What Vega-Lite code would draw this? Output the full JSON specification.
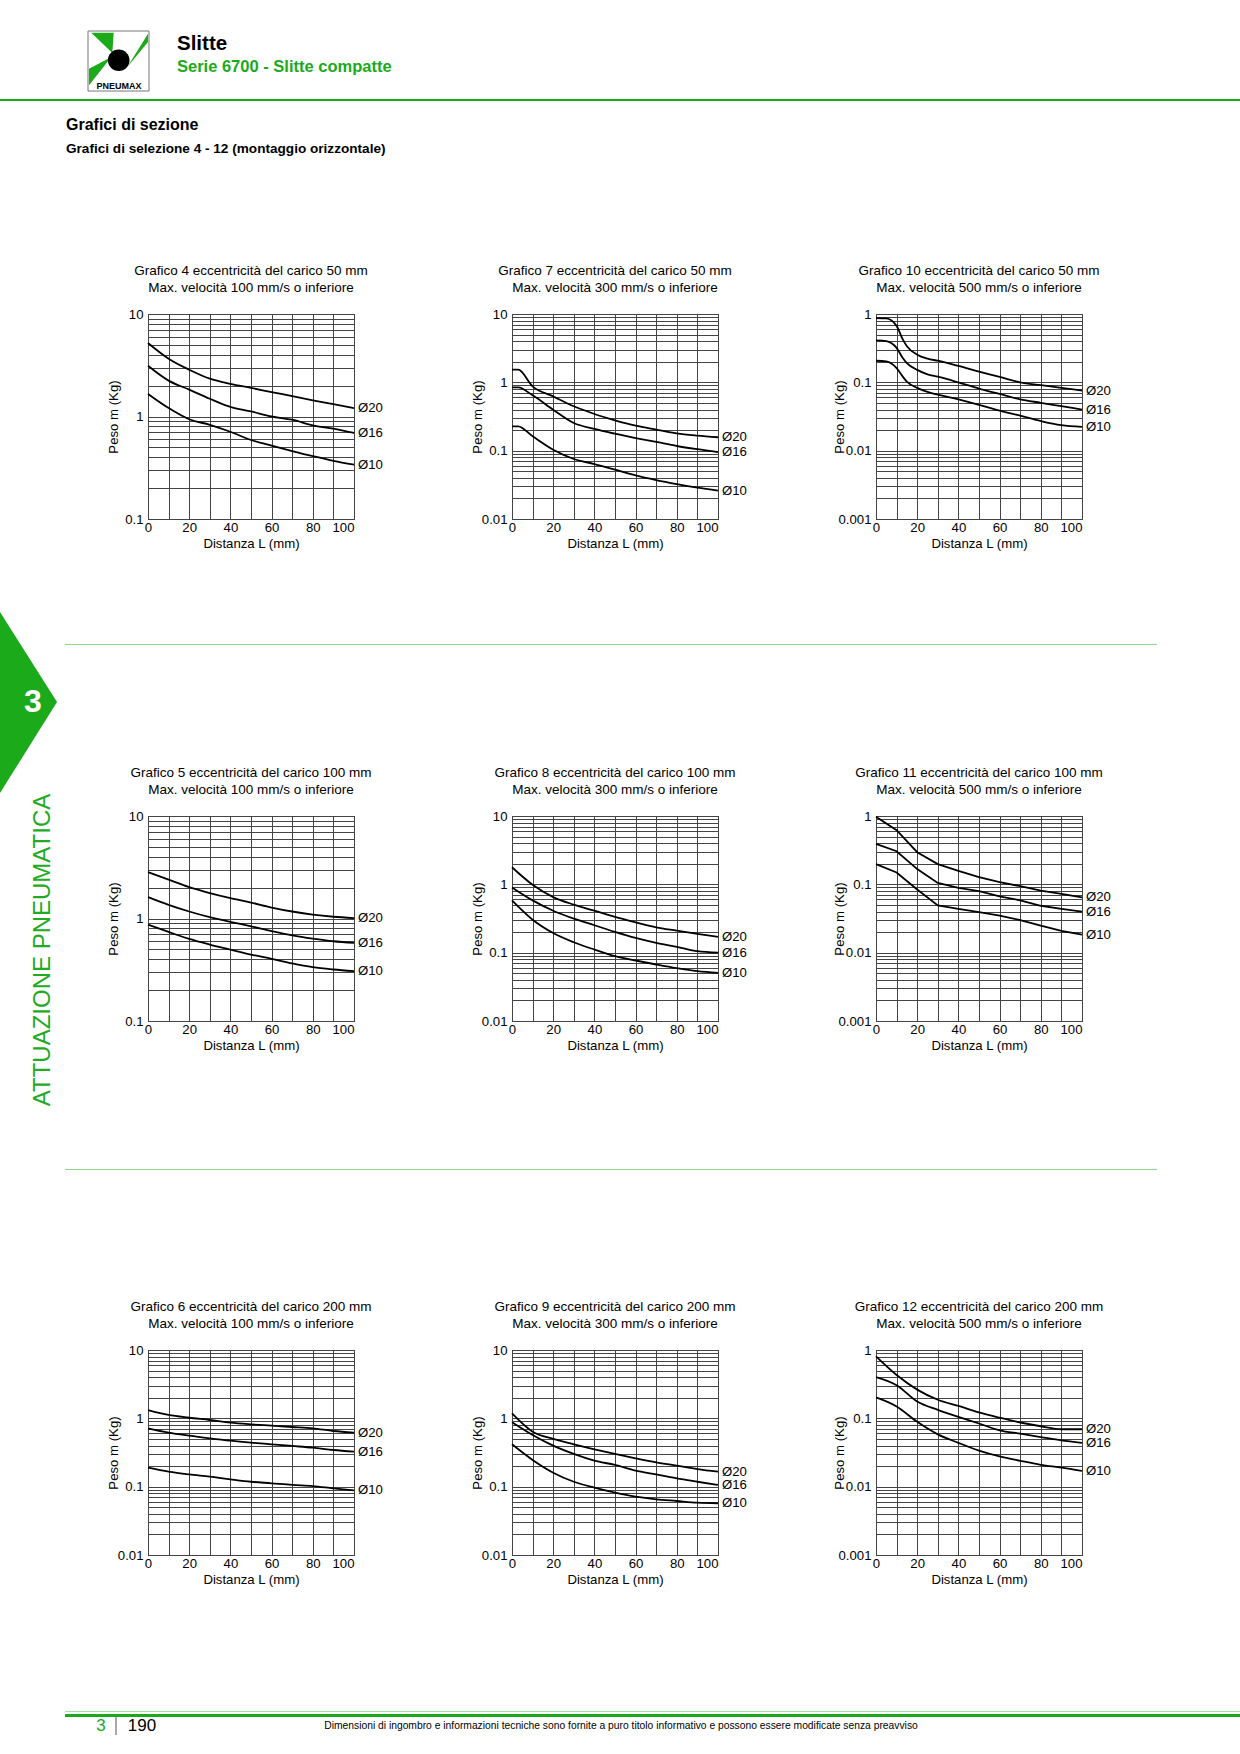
{
"$schema":"https://vega.github.io/schema/vega-lite/v6.json",
"background":"#ffffff",
"padding":0,
"autosize":{"type":"pad"},
"config":{
 "font":"Liberation Sans",
 "view":{"stroke":null},
 "concat":{"spacing":0},
 "title":{"fontSize":13.5,"fontWeight":"normal","color":"#000","anchor":"middle","frame":"group","offset":13,"lineHeight":16.5},
 "axis":{"grid":true,"gridColor":"#444","gridWidth":1,"gridOpacity":1,"ticks":false,"domain":false,"labelFontSize":13.2,"labelColor":"#000","titleFontSize":13.2,"titleFontWeight":"normal","titleColor":"#000","labelOverlap":false,"labelBound":false},
 "axisX":{"labelFlush":false,"labelPadding":2,"titleY":24.5,"titleBaseline":"middle"},
 "axisY":{"labelPadding":5,"titleX":-35,"titleY":102.5,"titleBaseline":"middle"},
 "point":{"opacity":1}
},
"datasets":{
 "none":[],
 "one":[{}],
 "curves":[
{"g":4,"d":"Ø20","L":0,"m":5.21},{"g":4,"d":"Ø20","L":10,"m":3.66},{"g":4,"d":"Ø20","L":20,"m":2.86},{"g":4,"d":"Ø20","L":30,"m":2.34},{"g":4,"d":"Ø20","L":40,"m":2.08},{"g":4,"d":"Ø20","L":50,"m":1.9},{"g":4,"d":"Ø20","L":60,"m":1.73},{"g":4,"d":"Ø20","L":70,"m":1.58},{"g":4,"d":"Ø20","L":80,"m":1.44},{"g":4,"d":"Ø20","L":90,"m":1.32},{"g":4,"d":"Ø20","L":100,"m":1.21},
{"g":4,"d":"Ø16","L":0,"m":3.13},{"g":4,"d":"Ø16","L":10,"m":2.24},{"g":4,"d":"Ø16","L":20,"m":1.83},{"g":4,"d":"Ø16","L":30,"m":1.49},{"g":4,"d":"Ø16","L":40,"m":1.24},{"g":4,"d":"Ø16","L":50,"m":1.12},{"g":4,"d":"Ø16","L":60,"m":1.0},{"g":4,"d":"Ø16","L":70,"m":0.93},{"g":4,"d":"Ø16","L":80,"m":0.82},{"g":4,"d":"Ø16","L":90,"m":0.76},{"g":4,"d":"Ø16","L":100,"m":0.69},
{"g":4,"d":"Ø10","L":0,"m":1.66},{"g":4,"d":"Ø10","L":10,"m":1.21},{"g":4,"d":"Ø10","L":20,"m":0.94},{"g":4,"d":"Ø10","L":30,"m":0.83},{"g":4,"d":"Ø10","L":40,"m":0.71},{"g":4,"d":"Ø10","L":50,"m":0.59},{"g":4,"d":"Ø10","L":60,"m":0.52},{"g":4,"d":"Ø10","L":70,"m":0.46},{"g":4,"d":"Ø10","L":80,"m":0.41},{"g":4,"d":"Ø10","L":90,"m":0.37},{"g":4,"d":"Ø10","L":100,"m":0.34},
{"g":7,"d":"Ø20","L":0,"m":1.53},{"g":7,"d":"Ø20","L":3,"m":1.53},{"g":7,"d":"Ø20","L":10,"m":0.874},{"g":7,"d":"Ø20","L":20,"m":0.624},{"g":7,"d":"Ø20","L":30,"m":0.446},{"g":7,"d":"Ø20","L":40,"m":0.344},{"g":7,"d":"Ø20","L":50,"m":0.278},{"g":7,"d":"Ø20","L":60,"m":0.232},{"g":7,"d":"Ø20","L":70,"m":0.203},{"g":7,"d":"Ø20","L":80,"m":0.179},{"g":7,"d":"Ø20","L":90,"m":0.166},{"g":7,"d":"Ø20","L":100,"m":0.157},
{"g":7,"d":"Ø16","L":0,"m":0.845},{"g":7,"d":"Ø16","L":3,"m":0.845},{"g":7,"d":"Ø16","L":10,"m":0.645},{"g":7,"d":"Ø16","L":20,"m":0.398},{"g":7,"d":"Ø16","L":30,"m":0.254},{"g":7,"d":"Ø16","L":40,"m":0.208},{"g":7,"d":"Ø16","L":50,"m":0.177},{"g":7,"d":"Ø16","L":60,"m":0.153},{"g":7,"d":"Ø16","L":70,"m":0.134},{"g":7,"d":"Ø16","L":80,"m":0.117},{"g":7,"d":"Ø16","L":90,"m":0.105},{"g":7,"d":"Ø16","L":100,"m":0.0955},
{"g":7,"d":"Ø10","L":0,"m":0.227},{"g":7,"d":"Ø10","L":3,"m":0.227},{"g":7,"d":"Ø10","L":10,"m":0.162},{"g":7,"d":"Ø10","L":20,"m":0.103},{"g":7,"d":"Ø10","L":30,"m":0.0755},{"g":7,"d":"Ø10","L":40,"m":0.0638},{"g":7,"d":"Ø10","L":50,"m":0.0527},{"g":7,"d":"Ø10","L":60,"m":0.0435},{"g":7,"d":"Ø10","L":70,"m":0.0372},{"g":7,"d":"Ø10","L":80,"m":0.0325},{"g":7,"d":"Ø10","L":90,"m":0.0288},{"g":7,"d":"Ø10","L":100,"m":0.026},
{"g":10,"d":"Ø20","L":0,"m":0.872},{"g":10,"d":"Ø20","L":5,"m":0.862},{"g":10,"d":"Ø20","L":10,"m":0.67},{"g":10,"d":"Ø20","L":13,"m":0.425},{"g":10,"d":"Ø20","L":15,"m":0.338},{"g":10,"d":"Ø20","L":20,"m":0.254},{"g":10,"d":"Ø20","L":25,"m":0.222},{"g":10,"d":"Ø20","L":30,"m":0.207},{"g":10,"d":"Ø20","L":40,"m":0.174},{"g":10,"d":"Ø20","L":50,"m":0.144},{"g":10,"d":"Ø20","L":60,"m":0.12},{"g":10,"d":"Ø20","L":70,"m":0.0997},{"g":10,"d":"Ø20","L":80,"m":0.091},{"g":10,"d":"Ø20","L":90,"m":0.083},{"g":10,"d":"Ø20","L":100,"m":0.0758},
{"g":10,"d":"Ø16","L":0,"m":0.41},{"g":10,"d":"Ø16","L":5,"m":0.401},{"g":10,"d":"Ø16","L":10,"m":0.319},{"g":10,"d":"Ø16","L":13,"m":0.227},{"g":10,"d":"Ø16","L":15,"m":0.191},{"g":10,"d":"Ø16","L":20,"m":0.152},{"g":10,"d":"Ø16","L":25,"m":0.131},{"g":10,"d":"Ø16","L":30,"m":0.121},{"g":10,"d":"Ø16","L":40,"m":0.0997},{"g":10,"d":"Ø16","L":50,"m":0.081},{"g":10,"d":"Ø16","L":60,"m":0.0676},{"g":10,"d":"Ø16","L":70,"m":0.0563},{"g":10,"d":"Ø16","L":80,"m":0.0502},{"g":10,"d":"Ø16","L":90,"m":0.0448},{"g":10,"d":"Ø16","L":100,"m":0.04},
{"g":10,"d":"Ø10","L":0,"m":0.207},{"g":10,"d":"Ø10","L":5,"m":0.202},{"g":10,"d":"Ø10","L":10,"m":0.161},{"g":10,"d":"Ø10","L":13,"m":0.121},{"g":10,"d":"Ø10","L":15,"m":0.102},{"g":10,"d":"Ø10","L":20,"m":0.083},{"g":10,"d":"Ø10","L":25,"m":0.0724},{"g":10,"d":"Ø10","L":30,"m":0.066},{"g":10,"d":"Ø10","L":40,"m":0.0563},{"g":10,"d":"Ø10","L":50,"m":0.0469},{"g":10,"d":"Ø10","L":60,"m":0.0386},{"g":10,"d":"Ø10","L":70,"m":0.0326},{"g":10,"d":"Ø10","L":80,"m":0.0271},{"g":10,"d":"Ø10","L":90,"m":0.0236},{"g":10,"d":"Ø10","L":100,"m":0.0223},
{"g":5,"d":"Ø20","L":0,"m":2.83},{"g":5,"d":"Ø20","L":10,"m":2.39},{"g":5,"d":"Ø20","L":20,"m":2.02},{"g":5,"d":"Ø20","L":30,"m":1.77},{"g":5,"d":"Ø20","L":40,"m":1.58},{"g":5,"d":"Ø20","L":50,"m":1.43},{"g":5,"d":"Ø20","L":60,"m":1.28},{"g":5,"d":"Ø20","L":70,"m":1.17},{"g":5,"d":"Ø20","L":80,"m":1.09},{"g":5,"d":"Ø20","L":90,"m":1.04},{"g":5,"d":"Ø20","L":100,"m":1.01},
{"g":5,"d":"Ø16","L":0,"m":1.62},{"g":5,"d":"Ø16","L":10,"m":1.36},{"g":5,"d":"Ø16","L":20,"m":1.17},{"g":5,"d":"Ø16","L":30,"m":1.03},{"g":5,"d":"Ø16","L":40,"m":0.925},{"g":5,"d":"Ø16","L":50,"m":0.839},{"g":5,"d":"Ø16","L":60,"m":0.755},{"g":5,"d":"Ø16","L":70,"m":0.686},{"g":5,"d":"Ø16","L":80,"m":0.637},{"g":5,"d":"Ø16","L":90,"m":0.6},{"g":5,"d":"Ø16","L":100,"m":0.578},
{"g":5,"d":"Ø10","L":0,"m":0.871},{"g":5,"d":"Ø10","L":10,"m":0.739},{"g":5,"d":"Ø10","L":20,"m":0.632},{"g":5,"d":"Ø10","L":30,"m":0.557},{"g":5,"d":"Ø10","L":40,"m":0.498},{"g":5,"d":"Ø10","L":50,"m":0.445},{"g":5,"d":"Ø10","L":60,"m":0.404},{"g":5,"d":"Ø10","L":70,"m":0.364},{"g":5,"d":"Ø10","L":80,"m":0.335},{"g":5,"d":"Ø10","L":90,"m":0.318},{"g":5,"d":"Ø10","L":100,"m":0.306},
{"g":8,"d":"Ø20","L":0,"m":1.78},{"g":8,"d":"Ø20","L":10,"m":0.986},{"g":8,"d":"Ø20","L":20,"m":0.651},{"g":8,"d":"Ø20","L":30,"m":0.504},{"g":8,"d":"Ø20","L":40,"m":0.411},{"g":8,"d":"Ø20","L":50,"m":0.333},{"g":8,"d":"Ø20","L":60,"m":0.278},{"g":8,"d":"Ø20","L":70,"m":0.235},{"g":8,"d":"Ø20","L":80,"m":0.21},{"g":8,"d":"Ø20","L":90,"m":0.188},{"g":8,"d":"Ø20","L":100,"m":0.17},
{"g":8,"d":"Ø16","L":0,"m":0.901},{"g":8,"d":"Ø16","L":10,"m":0.582},{"g":8,"d":"Ø16","L":20,"m":0.411},{"g":8,"d":"Ø16","L":30,"m":0.315},{"g":8,"d":"Ø16","L":40,"m":0.252},{"g":8,"d":"Ø16","L":50,"m":0.201},{"g":8,"d":"Ø16","L":60,"m":0.164},{"g":8,"d":"Ø16","L":70,"m":0.139},{"g":8,"d":"Ø16","L":80,"m":0.122},{"g":8,"d":"Ø16","L":90,"m":0.105},{"g":8,"d":"Ø16","L":100,"m":0.1},
{"g":8,"d":"Ø10","L":0,"m":0.582},{"g":8,"d":"Ø10","L":10,"m":0.304},{"g":8,"d":"Ø10","L":20,"m":0.194},{"g":8,"d":"Ø10","L":30,"m":0.142},{"g":8,"d":"Ø10","L":40,"m":0.111},{"g":8,"d":"Ø10","L":50,"m":0.0888},{"g":8,"d":"Ø10","L":60,"m":0.0768},{"g":8,"d":"Ø10","L":70,"m":0.0671},{"g":8,"d":"Ø10","L":80,"m":0.0593},{"g":8,"d":"Ø10","L":90,"m":0.0537},{"g":8,"d":"Ø10","L":100,"m":0.0507},
{"g":11,"d":"Ø20","L":0,"m":0.977},{"g":11,"d":"Ø20","L":10,"m":0.619},{"g":11,"d":"Ø20","L":20,"m":0.295},{"g":11,"d":"Ø20","L":30,"m":0.198},{"g":11,"d":"Ø20","L":40,"m":0.157},{"g":11,"d":"Ø20","L":50,"m":0.128},{"g":11,"d":"Ø20","L":60,"m":0.108},{"g":11,"d":"Ø20","L":70,"m":0.094},{"g":11,"d":"Ø20","L":80,"m":0.081},{"g":11,"d":"Ø20","L":90,"m":0.0724},{"g":11,"d":"Ø20","L":100,"m":0.0646},
{"g":11,"d":"Ø16","L":0,"m":0.392},{"g":11,"d":"Ø16","L":10,"m":0.305},{"g":11,"d":"Ø16","L":20,"m":0.167},{"g":11,"d":"Ø16","L":30,"m":0.105},{"g":11,"d":"Ø16","L":40,"m":0.0889},{"g":11,"d":"Ø16","L":50,"m":0.0793},{"g":11,"d":"Ø16","L":60,"m":0.0668},{"g":11,"d":"Ø16","L":70,"m":0.0583},{"g":11,"d":"Ø16","L":80,"m":0.0486},{"g":11,"d":"Ø16","L":90,"m":0.0438},{"g":11,"d":"Ø16","L":100,"m":0.04},
{"g":11,"d":"Ø10","L":0,"m":0.198},{"g":11,"d":"Ø10","L":10,"m":0.149},{"g":11,"d":"Ø10","L":20,"m":0.084},{"g":11,"d":"Ø10","L":30,"m":0.0491},{"g":11,"d":"Ø10","L":40,"m":0.0438},{"g":11,"d":"Ø10","L":50,"m":0.0391},{"g":11,"d":"Ø10","L":60,"m":0.0349},{"g":11,"d":"Ø10","L":70,"m":0.03},{"g":11,"d":"Ø10","L":80,"m":0.0248},{"g":11,"d":"Ø10","L":90,"m":0.0209},{"g":11,"d":"Ø10","L":100,"m":0.0184},
{"g":6,"d":"Ø20","L":0,"m":1.32},{"g":6,"d":"Ø20","L":10,"m":1.12},{"g":6,"d":"Ø20","L":20,"m":1.02},{"g":6,"d":"Ø20","L":30,"m":0.945},{"g":6,"d":"Ø20","L":40,"m":0.865},{"g":6,"d":"Ø20","L":50,"m":0.817},{"g":6,"d":"Ø20","L":60,"m":0.781},{"g":6,"d":"Ø20","L":70,"m":0.747},{"g":6,"d":"Ø20","L":80,"m":0.714},{"g":6,"d":"Ø20","L":90,"m":0.653},{"g":6,"d":"Ø20","L":100,"m":0.617},
{"g":6,"d":"Ø16","L":0,"m":0.714},{"g":6,"d":"Ø16","L":10,"m":0.617},{"g":6,"d":"Ø16","L":20,"m":0.557},{"g":6,"d":"Ø16","L":30,"m":0.51},{"g":6,"d":"Ø16","L":40,"m":0.471},{"g":6,"d":"Ø16","L":50,"m":0.441},{"g":6,"d":"Ø16","L":60,"m":0.417},{"g":6,"d":"Ø16","L":70,"m":0.394},{"g":6,"d":"Ø16","L":80,"m":0.372},{"g":6,"d":"Ø16","L":90,"m":0.344},{"g":6,"d":"Ø16","L":100,"m":0.325},
{"g":6,"d":"Ø10","L":0,"m":0.19},{"g":6,"d":"Ø10","L":10,"m":0.166},{"g":6,"d":"Ø10","L":20,"m":0.151},{"g":6,"d":"Ø10","L":30,"m":0.14},{"g":6,"d":"Ø10","L":40,"m":0.128},{"g":6,"d":"Ø10","L":50,"m":0.118},{"g":6,"d":"Ø10","L":60,"m":0.112},{"g":6,"d":"Ø10","L":70,"m":0.106},{"g":6,"d":"Ø10","L":80,"m":0.102},{"g":6,"d":"Ø10","L":90,"m":0.0946},{"g":6,"d":"Ø10","L":100,"m":0.0884},
{"g":9,"d":"Ø20","L":0,"m":1.18},{"g":9,"d":"Ø20","L":10,"m":0.638},{"g":9,"d":"Ø20","L":20,"m":0.499},{"g":9,"d":"Ø20","L":30,"m":0.417},{"g":9,"d":"Ø20","L":40,"m":0.352},{"g":9,"d":"Ø20","L":50,"m":0.301},{"g":9,"d":"Ø20","L":60,"m":0.26},{"g":9,"d":"Ø20","L":70,"m":0.227},{"g":9,"d":"Ø20","L":80,"m":0.203},{"g":9,"d":"Ø20","L":90,"m":0.181},{"g":9,"d":"Ø20","L":100,"m":0.166},
{"g":9,"d":"Ø16","L":0,"m":0.874},{"g":9,"d":"Ø16","L":10,"m":0.57},{"g":9,"d":"Ø16","L":20,"m":0.398},{"g":9,"d":"Ø16","L":30,"m":0.301},{"g":9,"d":"Ø16","L":40,"m":0.24},{"g":9,"d":"Ø16","L":50,"m":0.208},{"g":9,"d":"Ø16","L":60,"m":0.171},{"g":9,"d":"Ø16","L":70,"m":0.151},{"g":9,"d":"Ø16","L":80,"m":0.132},{"g":9,"d":"Ø16","L":90,"m":0.118},{"g":9,"d":"Ø16","L":100,"m":0.106},
{"g":9,"d":"Ø10","L":0,"m":0.417},{"g":9,"d":"Ø10","L":10,"m":0.246},{"g":9,"d":"Ø10","L":20,"m":0.16},{"g":9,"d":"Ø10","L":30,"m":0.118},{"g":9,"d":"Ø10","L":40,"m":0.0966},{"g":9,"d":"Ø10","L":50,"m":0.0817},{"g":9,"d":"Ø10","L":60,"m":0.0714},{"g":9,"d":"Ø10","L":70,"m":0.0653},{"g":9,"d":"Ø10","L":80,"m":0.0617},{"g":9,"d":"Ø10","L":90,"m":0.0583},{"g":9,"d":"Ø10","L":100,"m":0.057},
{"g":12,"d":"Ø20","L":0,"m":0.805},{"g":12,"d":"Ø20","L":10,"m":0.43},{"g":12,"d":"Ø20","L":20,"m":0.263},{"g":12,"d":"Ø20","L":30,"m":0.187},{"g":12,"d":"Ø20","L":40,"m":0.152},{"g":12,"d":"Ø20","L":50,"m":0.122},{"g":12,"d":"Ø20","L":60,"m":0.102},{"g":12,"d":"Ø20","L":70,"m":0.0869},{"g":12,"d":"Ø20","L":80,"m":0.0766},{"g":12,"d":"Ø20","L":90,"m":0.0692},{"g":12,"d":"Ø20","L":100,"m":0.0692},
{"g":12,"d":"Ø16","L":0,"m":0.401},{"g":12,"d":"Ø16","L":10,"m":0.305},{"g":12,"d":"Ø16","L":20,"m":0.176},{"g":12,"d":"Ø16","L":30,"m":0.133},{"g":12,"d":"Ø16","L":40,"m":0.105},{"g":12,"d":"Ø16","L":50,"m":0.084},{"g":12,"d":"Ø16","L":60,"m":0.0668},{"g":12,"d":"Ø16","L":70,"m":0.0596},{"g":12,"d":"Ø16","L":80,"m":0.0532},{"g":12,"d":"Ø16","L":90,"m":0.0475},{"g":12,"d":"Ø16","L":100,"m":0.0438},
{"g":12,"d":"Ø10","L":0,"m":0.202},{"g":12,"d":"Ø10","L":10,"m":0.149},{"g":12,"d":"Ø10","L":20,"m":0.0889},{"g":12,"d":"Ø10","L":30,"m":0.0583},{"g":12,"d":"Ø10","L":40,"m":0.0438},{"g":12,"d":"Ø10","L":50,"m":0.0337},{"g":12,"d":"Ø10","L":60,"m":0.0277},{"g":12,"d":"Ø10","L":70,"m":0.0239},{"g":12,"d":"Ø10","L":80,"m":0.0209},{"g":12,"d":"Ø10","L":90,"m":0.019},{"g":12,"d":"Ø10","L":100,"m":0.017}
 ]
},
"columns":8,
"align":"each",
"spacing":0,
"bounds":"flush",
"concat":[
 {"width":65,"height":99,"mark":"point","data":{"name":"none"}},
 {"width":83,"height":99,"data":{"name":"one"},"layer":[
   {"mark":{"type":"point","shape":"M-18.5,-18.5L42.5,-18.5L42.5,41.5L-18.5,41.5Z","size":4,"filled":false,"color":"#777","strokeWidth":1,"opacity":1}},
   {"mark":{"type":"point","shape":"M-15.2,-16.8L7.2,-16.8L5.8,3.5ZM41.5,-15.8L41.5,-7.5L20.8,17.5ZM-17.5,19.2L-17.5,35.8L4.8,7.5Z","size":4,"filled":true,"color":"#1aaa1a","opacity":1,"strokeWidth":0}},
   {"mark":{"type":"point","shape":"M1.4,10.8A10.8,10.8 0 1,0 23,10.8A10.8,10.8 0 1,0 1.4,10.8Z","size":4,"filled":true,"color":"#000","opacity":1,"strokeWidth":0}},
   {"mark":{"type":"text","text":"PNEUMAX","fontSize":9,"fontWeight":"bold","dx":12.5,"dy":36.5,"color":"#000"}}
 ]},
 {"width":1,"height":1,"mark":"point","data":{"name":"none"}},
 {"width":1,"height":1,"mark":"point","data":{"name":"none"}},
 {"width":1,"height":1,"mark":"point","data":{"name":"none"}},
 {"width":1,"height":1,"mark":"point","data":{"name":"none"}},
 {"width":1,"height":1,"mark":"point","data":{"name":"none"}},
 {"width":1,"height":1,"mark":"point","data":{"name":"none"}},

 {"width":65,"height":2,"mark":"point","data":{"name":"none"},"view":{"fill":"#1aaa1a","stroke":null}},
 {"width":83,"height":2,"mark":"point","data":{"name":"none"},"view":{"fill":"#1aaa1a","stroke":null}},
 {"width":206,"height":2,"mark":"point","data":{"name":"none"},"view":{"fill":"#1aaa1a","stroke":null},
  "title":{"text":"Slitte","subtitle":"Serie 6700 - Slitte compatte","orient":"top","anchor":"start","frame":"group","dx":29,"offset":24,"fontSize":20.5,"fontWeight":"bold","lineHeight":20.5,"color":"#000","subtitleFontSize":16.5,"subtitleFontWeight":"bold","subtitleColor":"#1aaa1a","subtitlePadding":4}},
 {"width":158,"height":2,"mark":"point","data":{"name":"none"},"view":{"fill":"#1aaa1a","stroke":null}},
 {"width":206,"height":2,"mark":"point","data":{"name":"none"},"view":{"fill":"#1aaa1a","stroke":null}},
 {"width":158,"height":2,"mark":"point","data":{"name":"none"},"view":{"fill":"#1aaa1a","stroke":null}},
 {"width":206,"height":2,"mark":"point","data":{"name":"none"},"view":{"fill":"#1aaa1a","stroke":null}},
 {"width":158,"height":2,"mark":"point","data":{"name":"none"},"view":{"fill":"#1aaa1a","stroke":null}},

 {"width":1,"height":1,"mark":"point","data":{"name":"none"}},
 {"width":1,"height":16,"mark":"point","data":{"name":"none"},
  "title":{"text":"Grafici di sezione","subtitle":"Grafici di selezione 4 - 12 (montaggio orizzontale)","orient":"bottom","anchor":"start","frame":"group","dx":1,"offset":0,"fontSize":16,"fontWeight":"bold","lineHeight":16,"color":"#000","subtitleFontSize":13.6,"subtitleFontWeight":"bold","subtitleColor":"#000","subtitlePadding":9}},
 {"width":1,"height":1,"mark":"point","data":{"name":"none"}},
 {"width":1,"height":1,"mark":"point","data":{"name":"none"}},
 {"width":1,"height":1,"mark":"point","data":{"name":"none"}},
 {"width":1,"height":1,"mark":"point","data":{"name":"none"}},
 {"width":1,"height":1,"mark":"point","data":{"name":"none"}},
 {"width":1,"height":1,"mark":"point","data":{"name":"none"}},

 {"width":1,"height":197,"mark":"point","data":{"name":"none"}},
 {"width":1,"height":1,"mark":"point","data":{"name":"none"}},
 {"width":1,"height":1,"mark":"point","data":{"name":"none"}},
 {"width":1,"height":1,"mark":"point","data":{"name":"none"}},
 {"width":1,"height":1,"mark":"point","data":{"name":"none"}},
 {"width":1,"height":1,"mark":"point","data":{"name":"none"}},
 {"width":1,"height":1,"mark":"point","data":{"name":"none"}},
 {"width":1,"height":1,"mark":"point","data":{"name":"none"}},

 {"width":65,"height":205,"mark":"point","data":{"name":"none"}},
 {"width":83,"height":205,"mark":"point","data":{"name":"none"}},
 {"width":206,"height":205,"view":{"stroke":"#000","strokeWidth":1},
  "title":{"text":["Grafico 4 eccentricità del carico 50 mm","Max. velocità 100 mm/s o inferiore"]},
  "data":{"name":"curves"},"transform":[{"filter":"datum.g == 4"}],
  "encoding":{"x":{"field":"L","type":"quantitative","scale":{"domain":[0,100],"nice":false},"axis":{"title":"Distanza L (mm)","values":[0,10,20,30,40,50,60,70,80,90,100],"labelExpr":"datum.value % 20 == 0 ? datum.label : ''","labelAlign":{"condition":{"test":"datum.value == 100","value":"right"},"value":"center"}}},
   "y":{"field":"m","type":"quantitative","scale":{"type":"log","domain":[0.1,10],"nice":false},"axis":{"title":"Peso m (Kg)","values":[0.1,0.2,0.3,0.4,0.5,0.6,0.7,0.8,0.9,1,2,3,4,5,6,7,8,9,10],"labelExpr":"indexof([0.001,0.01,0.1,1,10], datum.value) >= 0 ? format(datum.value, '~g') : ''"}}},
  "layer":[{"mark":{"type":"line","interpolate":"monotone","color":"#000","strokeWidth":1.8},"encoding":{"detail":{"field":"d"}}},
   {"transform":[{"filter":"datum.L == 100"}],"mark":{"type":"text","align":"left","dx":4,"fontSize":13.2,"color":"#000"},"encoding":{"text":{"field":"d"}}}]},
 {"width":158,"height":205,"mark":"point","data":{"name":"none"}},
 {"width":206,"height":205,"view":{"stroke":"#000","strokeWidth":1},
  "title":{"text":["Grafico 7 eccentricità del carico 50 mm","Max. velocità 300 mm/s o inferiore"]},
  "data":{"name":"curves"},"transform":[{"filter":"datum.g == 7"}],
  "encoding":{"x":{"field":"L","type":"quantitative","scale":{"domain":[0,100],"nice":false},"axis":{"title":"Distanza L (mm)","values":[0,10,20,30,40,50,60,70,80,90,100],"labelExpr":"datum.value % 20 == 0 ? datum.label : ''","labelAlign":{"condition":{"test":"datum.value == 100","value":"right"},"value":"center"}}},
   "y":{"field":"m","type":"quantitative","scale":{"type":"log","domain":[0.01,10],"nice":false},"axis":{"title":"Peso m (Kg)","values":[0.01,0.02,0.03,0.04,0.05,0.06,0.07,0.08,0.09,0.1,0.2,0.3,0.4,0.5,0.6,0.7,0.8,0.9,1,2,3,4,5,6,7,8,9,10],"labelExpr":"indexof([0.001,0.01,0.1,1,10], datum.value) >= 0 ? format(datum.value, '~g') : ''"}}},
  "layer":[{"mark":{"type":"line","interpolate":"monotone","color":"#000","strokeWidth":1.8},"encoding":{"detail":{"field":"d"}}},
   {"transform":[{"filter":"datum.L == 100"}],"mark":{"type":"text","align":"left","dx":4,"fontSize":13.2,"color":"#000"},"encoding":{"text":{"field":"d"}}}]},
 {"width":158,"height":205,"mark":"point","data":{"name":"none"}},
 {"width":206,"height":205,"view":{"stroke":"#000","strokeWidth":1},
  "title":{"text":["Grafico 10 eccentricità del carico 50 mm","Max. velocità 500 mm/s o inferiore"]},
  "data":{"name":"curves"},"transform":[{"filter":"datum.g == 10"}],
  "encoding":{"x":{"field":"L","type":"quantitative","scale":{"domain":[0,100],"nice":false},"axis":{"title":"Distanza L (mm)","values":[0,10,20,30,40,50,60,70,80,90,100],"labelExpr":"datum.value % 20 == 0 ? datum.label : ''","labelAlign":{"condition":{"test":"datum.value == 100","value":"right"},"value":"center"}}},
   "y":{"field":"m","type":"quantitative","scale":{"type":"log","domain":[0.001,1],"nice":false},"axis":{"title":"Peso m (Kg)","titleX":-36.5,"values":[0.001,0.002,0.003,0.004,0.005,0.006,0.007,0.008,0.009,0.01,0.02,0.03,0.04,0.05,0.06,0.07,0.08,0.09,0.1,0.2,0.3,0.4,0.5,0.6,0.7,0.8,0.9,1],"labelExpr":"indexof([0.001,0.01,0.1,1,10], datum.value) >= 0 ? format(datum.value, '~g') : ''"}}},
  "layer":[{"mark":{"type":"line","interpolate":"monotone","color":"#000","strokeWidth":1.8},"encoding":{"detail":{"field":"d"}}},
   {"transform":[{"filter":"datum.L == 100"}],"mark":{"type":"text","align":"left","dx":4,"fontSize":13.2,"color":"#000"},"encoding":{"text":{"field":"d"}}}]},
 {"width":158,"height":205,"mark":"point","data":{"name":"none"}},

 {"width":1,"height":93,"mark":"point","data":{"name":"none"}},
 {"width":1,"height":1,"mark":"point","data":{"name":"none"}},
 {"width":1,"height":1,"mark":"point","data":{"name":"none"}},
 {"width":1,"height":1,"mark":"point","data":{"name":"none"}},
 {"width":1,"height":1,"mark":"point","data":{"name":"none"}},
 {"width":1,"height":1,"mark":"point","data":{"name":"none"}},
 {"width":1,"height":1,"mark":"point","data":{"name":"none"}},
 {"width":1,"height":1,"mark":"point","data":{"name":"none"}},

 {"width":65,"height":32,"data":{"name":"one"},"layer":[
   {"mark":{"type":"point","shape":"M-32.5,-16L24.5,74L-32.5,165Z","size":4,"filled":true,"color":"#1aaa1a","opacity":1,"strokeWidth":0}},
   {"mark":{"type":"text","text":"3","color":"#ffffff","fontSize":32,"fontWeight":"bold","dx":0.5,"dy":74}}
 ]},
 {"width":1,"height":1,"mark":"point","data":{"name":"none"}},
 {"width":1,"height":1,"mark":"point","data":{"name":"none"}},
 {"width":1,"height":1,"mark":"point","data":{"name":"none"}},
 {"width":1,"height":1,"mark":"point","data":{"name":"none"}},
 {"width":1,"height":1,"mark":"point","data":{"name":"none"}},
 {"width":1,"height":1,"mark":"point","data":{"name":"none"}},
 {"width":1,"height":1,"mark":"point","data":{"name":"none"}},

 {"width":1,"height":1,"mark":"point","data":{"name":"none"}},
 {"width":83,"height":1,"mark":"point","data":{"name":"none"},"view":{"fill":"#8fd48f","stroke":null}},
 {"width":206,"height":1,"mark":"point","data":{"name":"none"},"view":{"fill":"#8fd48f","stroke":null}},
 {"width":158,"height":1,"mark":"point","data":{"name":"none"},"view":{"fill":"#8fd48f","stroke":null}},
 {"width":206,"height":1,"mark":"point","data":{"name":"none"},"view":{"fill":"#8fd48f","stroke":null}},
 {"width":158,"height":1,"mark":"point","data":{"name":"none"},"view":{"fill":"#8fd48f","stroke":null}},
 {"width":206,"height":1,"mark":"point","data":{"name":"none"},"view":{"fill":"#8fd48f","stroke":null}},
 {"width":75,"height":1,"mark":"point","data":{"name":"none"},"view":{"fill":"#8fd48f","stroke":null}},

 {"width":1,"height":171,"mark":"point","data":{"name":"none"}},
 {"width":1,"height":1,"mark":"point","data":{"name":"none"}},
 {"width":1,"height":1,"mark":"point","data":{"name":"none"}},
 {"width":1,"height":1,"mark":"point","data":{"name":"none"}},
 {"width":1,"height":1,"mark":"point","data":{"name":"none"}},
 {"width":1,"height":1,"mark":"point","data":{"name":"none"}},
 {"width":1,"height":1,"mark":"point","data":{"name":"none"}},
 {"width":1,"height":1,"mark":"point","data":{"name":"none"}},

 {"width":65,"height":205,"data":{"name":"one"},"mark":{"type":"text","text":"ATTUAZIONE PNEUMATICA","angle":270,"fontSize":24,"color":"#22aa22","dx":-31.5,"dy":10}},
 {"width":83,"height":205,"mark":"point","data":{"name":"none"}},
 {"width":206,"height":205,"view":{"stroke":"#000","strokeWidth":1},
  "title":{"text":["Grafico 5 eccentricità del carico 100 mm","Max. velocità 100 mm/s o inferiore"]},
  "data":{"name":"curves"},"transform":[{"filter":"datum.g == 5"}],
  "encoding":{"x":{"field":"L","type":"quantitative","scale":{"domain":[0,100],"nice":false},"axis":{"title":"Distanza L (mm)","values":[0,10,20,30,40,50,60,70,80,90,100],"labelExpr":"datum.value % 20 == 0 ? datum.label : ''","labelAlign":{"condition":{"test":"datum.value == 100","value":"right"},"value":"center"}}},
   "y":{"field":"m","type":"quantitative","scale":{"type":"log","domain":[0.1,10],"nice":false},"axis":{"title":"Peso m (Kg)","values":[0.1,0.2,0.3,0.4,0.5,0.6,0.7,0.8,0.9,1,2,3,4,5,6,7,8,9,10],"labelExpr":"indexof([0.001,0.01,0.1,1,10], datum.value) >= 0 ? format(datum.value, '~g') : ''"}}},
  "layer":[{"mark":{"type":"line","interpolate":"monotone","color":"#000","strokeWidth":1.8},"encoding":{"detail":{"field":"d"}}},
   {"transform":[{"filter":"datum.L == 100"}],"mark":{"type":"text","align":"left","dx":4,"fontSize":13.2,"color":"#000"},"encoding":{"text":{"field":"d"}}}]},
 {"width":158,"height":205,"mark":"point","data":{"name":"none"}},
 {"width":206,"height":205,"view":{"stroke":"#000","strokeWidth":1},
  "title":{"text":["Grafico 8 eccentricità del carico 100 mm","Max. velocità 300 mm/s o inferiore"]},
  "data":{"name":"curves"},"transform":[{"filter":"datum.g == 8"}],
  "encoding":{"x":{"field":"L","type":"quantitative","scale":{"domain":[0,100],"nice":false},"axis":{"title":"Distanza L (mm)","values":[0,10,20,30,40,50,60,70,80,90,100],"labelExpr":"datum.value % 20 == 0 ? datum.label : ''","labelAlign":{"condition":{"test":"datum.value == 100","value":"right"},"value":"center"}}},
   "y":{"field":"m","type":"quantitative","scale":{"type":"log","domain":[0.01,10],"nice":false},"axis":{"title":"Peso m (Kg)","values":[0.01,0.02,0.03,0.04,0.05,0.06,0.07,0.08,0.09,0.1,0.2,0.3,0.4,0.5,0.6,0.7,0.8,0.9,1,2,3,4,5,6,7,8,9,10],"labelExpr":"indexof([0.001,0.01,0.1,1,10], datum.value) >= 0 ? format(datum.value, '~g') : ''"}}},
  "layer":[{"mark":{"type":"line","interpolate":"monotone","color":"#000","strokeWidth":1.8},"encoding":{"detail":{"field":"d"}}},
   {"transform":[{"filter":"datum.L == 100"}],"mark":{"type":"text","align":"left","dx":4,"fontSize":13.2,"color":"#000"},"encoding":{"text":{"field":"d"}}}]},
 {"width":158,"height":205,"mark":"point","data":{"name":"none"}},
 {"width":206,"height":205,"view":{"stroke":"#000","strokeWidth":1},
  "title":{"text":["Grafico 11 eccentricità del carico 100 mm","Max. velocità 500 mm/s o inferiore"]},
  "data":{"name":"curves"},"transform":[{"filter":"datum.g == 11"}],
  "encoding":{"x":{"field":"L","type":"quantitative","scale":{"domain":[0,100],"nice":false},"axis":{"title":"Distanza L (mm)","values":[0,10,20,30,40,50,60,70,80,90,100],"labelExpr":"datum.value % 20 == 0 ? datum.label : ''","labelAlign":{"condition":{"test":"datum.value == 100","value":"right"},"value":"center"}}},
   "y":{"field":"m","type":"quantitative","scale":{"type":"log","domain":[0.001,1],"nice":false},"axis":{"title":"Peso m (Kg)","titleX":-36.5,"values":[0.001,0.002,0.003,0.004,0.005,0.006,0.007,0.008,0.009,0.01,0.02,0.03,0.04,0.05,0.06,0.07,0.08,0.09,0.1,0.2,0.3,0.4,0.5,0.6,0.7,0.8,0.9,1],"labelExpr":"indexof([0.001,0.01,0.1,1,10], datum.value) >= 0 ? format(datum.value, '~g') : ''"}}},
  "layer":[{"mark":{"type":"line","interpolate":"linear","color":"#000","strokeWidth":1.8},"encoding":{"detail":{"field":"d"}}},
   {"transform":[{"filter":"datum.L == 100"}],"mark":{"type":"text","align":"left","dx":4,"fontSize":13.2,"color":"#000"},"encoding":{"text":{"field":"d"}}}]},
 {"width":158,"height":205,"mark":"point","data":{"name":"none"}},

 {"width":1,"height":148,"mark":"point","data":{"name":"none"}},
 {"width":1,"height":1,"mark":"point","data":{"name":"none"}},
 {"width":1,"height":1,"mark":"point","data":{"name":"none"}},
 {"width":1,"height":1,"mark":"point","data":{"name":"none"}},
 {"width":1,"height":1,"mark":"point","data":{"name":"none"}},
 {"width":1,"height":1,"mark":"point","data":{"name":"none"}},
 {"width":1,"height":1,"mark":"point","data":{"name":"none"}},
 {"width":1,"height":1,"mark":"point","data":{"name":"none"}},

 {"width":1,"height":1,"mark":"point","data":{"name":"none"}},
 {"width":83,"height":1,"mark":"point","data":{"name":"none"},"view":{"fill":"#8fd48f","stroke":null}},
 {"width":206,"height":1,"mark":"point","data":{"name":"none"},"view":{"fill":"#8fd48f","stroke":null}},
 {"width":158,"height":1,"mark":"point","data":{"name":"none"},"view":{"fill":"#8fd48f","stroke":null}},
 {"width":206,"height":1,"mark":"point","data":{"name":"none"},"view":{"fill":"#8fd48f","stroke":null}},
 {"width":158,"height":1,"mark":"point","data":{"name":"none"},"view":{"fill":"#8fd48f","stroke":null}},
 {"width":206,"height":1,"mark":"point","data":{"name":"none"},"view":{"fill":"#8fd48f","stroke":null}},
 {"width":75,"height":1,"mark":"point","data":{"name":"none"},"view":{"fill":"#8fd48f","stroke":null}},

 {"width":1,"height":180,"mark":"point","data":{"name":"none"}},
 {"width":1,"height":1,"mark":"point","data":{"name":"none"}},
 {"width":1,"height":1,"mark":"point","data":{"name":"none"}},
 {"width":1,"height":1,"mark":"point","data":{"name":"none"}},
 {"width":1,"height":1,"mark":"point","data":{"name":"none"}},
 {"width":1,"height":1,"mark":"point","data":{"name":"none"}},
 {"width":1,"height":1,"mark":"point","data":{"name":"none"}},
 {"width":1,"height":1,"mark":"point","data":{"name":"none"}},

 {"width":65,"height":205,"mark":"point","data":{"name":"none"}},
 {"width":83,"height":205,"mark":"point","data":{"name":"none"}},
 {"width":206,"height":205,"view":{"stroke":"#000","strokeWidth":1},
  "title":{"text":["Grafico 6 eccentricità del carico 200 mm","Max. velocità 100 mm/s o inferiore"]},
  "data":{"name":"curves"},"transform":[{"filter":"datum.g == 6"}],
  "encoding":{"x":{"field":"L","type":"quantitative","scale":{"domain":[0,100],"nice":false},"axis":{"title":"Distanza L (mm)","values":[0,10,20,30,40,50,60,70,80,90,100],"labelExpr":"datum.value % 20 == 0 ? datum.label : ''","labelAlign":{"condition":{"test":"datum.value == 100","value":"right"},"value":"center"}}},
   "y":{"field":"m","type":"quantitative","scale":{"type":"log","domain":[0.01,10],"nice":false},"axis":{"title":"Peso m (Kg)","values":[0.01,0.02,0.03,0.04,0.05,0.06,0.07,0.08,0.09,0.1,0.2,0.3,0.4,0.5,0.6,0.7,0.8,0.9,1,2,3,4,5,6,7,8,9,10],"labelExpr":"indexof([0.001,0.01,0.1,1,10], datum.value) >= 0 ? format(datum.value, '~g') : ''"}}},
  "layer":[{"mark":{"type":"line","interpolate":"monotone","color":"#000","strokeWidth":1.8},"encoding":{"detail":{"field":"d"}}},
   {"transform":[{"filter":"datum.L == 100"}],"mark":{"type":"text","align":"left","dx":4,"fontSize":13.2,"color":"#000"},"encoding":{"text":{"field":"d"}}}]},
 {"width":158,"height":205,"mark":"point","data":{"name":"none"}},
 {"width":206,"height":205,"view":{"stroke":"#000","strokeWidth":1},
  "title":{"text":["Grafico 9 eccentricità del carico 200 mm","Max. velocità 300 mm/s o inferiore"]},
  "data":{"name":"curves"},"transform":[{"filter":"datum.g == 9"}],
  "encoding":{"x":{"field":"L","type":"quantitative","scale":{"domain":[0,100],"nice":false},"axis":{"title":"Distanza L (mm)","values":[0,10,20,30,40,50,60,70,80,90,100],"labelExpr":"datum.value % 20 == 0 ? datum.label : ''","labelAlign":{"condition":{"test":"datum.value == 100","value":"right"},"value":"center"}}},
   "y":{"field":"m","type":"quantitative","scale":{"type":"log","domain":[0.01,10],"nice":false},"axis":{"title":"Peso m (Kg)","values":[0.01,0.02,0.03,0.04,0.05,0.06,0.07,0.08,0.09,0.1,0.2,0.3,0.4,0.5,0.6,0.7,0.8,0.9,1,2,3,4,5,6,7,8,9,10],"labelExpr":"indexof([0.001,0.01,0.1,1,10], datum.value) >= 0 ? format(datum.value, '~g') : ''"}}},
  "layer":[{"mark":{"type":"line","interpolate":"monotone","color":"#000","strokeWidth":1.8},"encoding":{"detail":{"field":"d"}}},
   {"transform":[{"filter":"datum.L == 100"}],"mark":{"type":"text","align":"left","dx":4,"fontSize":13.2,"color":"#000"},"encoding":{"text":{"field":"d"}}}]},
 {"width":158,"height":205,"mark":"point","data":{"name":"none"}},
 {"width":206,"height":205,"view":{"stroke":"#000","strokeWidth":1},
  "title":{"text":["Grafico 12 eccentricità del carico 200 mm","Max. velocità 500 mm/s o inferiore"]},
  "data":{"name":"curves"},"transform":[{"filter":"datum.g == 12"}],
  "encoding":{"x":{"field":"L","type":"quantitative","scale":{"domain":[0,100],"nice":false},"axis":{"title":"Distanza L (mm)","values":[0,10,20,30,40,50,60,70,80,90,100],"labelExpr":"datum.value % 20 == 0 ? datum.label : ''","labelAlign":{"condition":{"test":"datum.value == 100","value":"right"},"value":"center"}}},
   "y":{"field":"m","type":"quantitative","scale":{"type":"log","domain":[0.001,1],"nice":false},"axis":{"title":"Peso m (Kg)","titleX":-36.5,"values":[0.001,0.002,0.003,0.004,0.005,0.006,0.007,0.008,0.009,0.01,0.02,0.03,0.04,0.05,0.06,0.07,0.08,0.09,0.1,0.2,0.3,0.4,0.5,0.6,0.7,0.8,0.9,1],"labelExpr":"indexof([0.001,0.01,0.1,1,10], datum.value) >= 0 ? format(datum.value, '~g') : ''"}}},
  "layer":[{"mark":{"type":"line","interpolate":"monotone","color":"#000","strokeWidth":1.8},"encoding":{"detail":{"field":"d"}}},
   {"transform":[{"filter":"datum.L == 100"}],"mark":{"type":"text","align":"left","dx":4,"fontSize":13.2,"color":"#000"},"encoding":{"text":{"field":"d"}}}]},
 {"width":158,"height":205,"mark":"point","data":{"name":"none"}},

 {"width":1,"height":156,"mark":"point","data":{"name":"none"}},
 {"width":1,"height":1,"mark":"point","data":{"name":"none"}},
 {"width":1,"height":1,"mark":"point","data":{"name":"none"}},
 {"width":1,"height":1,"mark":"point","data":{"name":"none"}},
 {"width":1,"height":1,"mark":"point","data":{"name":"none"}},
 {"width":1,"height":1,"mark":"point","data":{"name":"none"}},
 {"width":1,"height":1,"mark":"point","data":{"name":"none"}},
 {"width":1,"height":1,"mark":"point","data":{"name":"none"}},

 {"width":1,"height":1,"mark":"point","data":{"name":"none"}},
 {"width":83,"height":1,"mark":"point","data":{"name":"none"},"view":{"fill":"#a5dca5","stroke":null}},
 {"width":206,"height":1,"mark":"point","data":{"name":"none"},"view":{"fill":"#a5dca5","stroke":null}},
 {"width":158,"height":1,"mark":"point","data":{"name":"none"},"view":{"fill":"#a5dca5","stroke":null}},
 {"width":206,"height":1,"mark":"point","data":{"name":"none"},"view":{"fill":"#a5dca5","stroke":null}},
 {"width":158,"height":1,"mark":"point","data":{"name":"none"},"view":{"fill":"#a5dca5","stroke":null}},
 {"width":206,"height":1,"mark":"point","data":{"name":"none"},"view":{"fill":"#a5dca5","stroke":null}},
 {"width":158,"height":1,"mark":"point","data":{"name":"none"},"view":{"fill":"#a5dca5","stroke":null}},

 {"width":1,"height":2,"mark":"point","data":{"name":"none"}},
 {"width":1,"height":1,"mark":"point","data":{"name":"none"}},
 {"width":1,"height":1,"mark":"point","data":{"name":"none"}},
 {"width":1,"height":1,"mark":"point","data":{"name":"none"}},
 {"width":1,"height":1,"mark":"point","data":{"name":"none"}},
 {"width":1,"height":1,"mark":"point","data":{"name":"none"}},
 {"width":1,"height":1,"mark":"point","data":{"name":"none"}},
 {"width":1,"height":1,"mark":"point","data":{"name":"none"}},

 {"width":1,"height":1,"mark":"point","data":{"name":"none"}},
 {"width":83,"height":3,"mark":"point","data":{"name":"none"},"view":{"fill":"#1aaa1a","stroke":null}},
 {"width":206,"height":3,"mark":"point","data":{"name":"none"},"view":{"fill":"#1aaa1a","stroke":null}},
 {"width":158,"height":3,"mark":"point","data":{"name":"none"},"view":{"fill":"#1aaa1a","stroke":null}},
 {"width":206,"height":3,"mark":"point","data":{"name":"none"},"view":{"fill":"#1aaa1a","stroke":null}},
 {"width":158,"height":3,"mark":"point","data":{"name":"none"},"view":{"fill":"#1aaa1a","stroke":null}},
 {"width":206,"height":3,"mark":"point","data":{"name":"none"},"view":{"fill":"#1aaa1a","stroke":null}},
 {"width":158,"height":3,"mark":"point","data":{"name":"none"},"view":{"fill":"#1aaa1a","stroke":null}},

 {"width":1,"height":1,"mark":"point","data":{"name":"none"}},
 {"width":83,"height":18,"data":{"name":"one"},"layer":[
   {"mark":{"type":"text","text":"3","fontSize":17,"color":"#1aaa1a","dx":-5.5}},
   {"mark":{"type":"point","shape":"M9.5,-9L9.5,9","size":4,"filled":false,"color":"#555","strokeWidth":1,"opacity":1}},
   {"mark":{"type":"text","text":"190","fontSize":17,"color":"#000","dx":35.5}}
 ]},
 {"width":1,"height":1,"mark":"point","data":{"name":"none"}},
 {"width":1,"height":1,"mark":"point","data":{"name":"none"}},
 {"width":206,"height":18,"data":{"name":"one"},"mark":{"type":"text","text":"Dimensioni di ingombro e informazioni tecniche sono fornite a puro titolo informativo e possono essere modificate senza preavviso","fontSize":10.3,"color":"#000","dx":6}},
 {"width":1,"height":1,"mark":"point","data":{"name":"none"}},
 {"width":1,"height":1,"mark":"point","data":{"name":"none"}},
 {"width":1,"height":1,"mark":"point","data":{"name":"none"}}
]
}
